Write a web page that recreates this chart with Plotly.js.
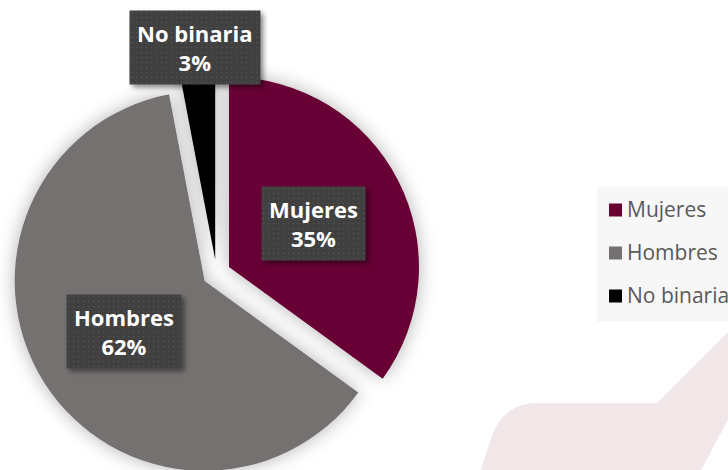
<!DOCTYPE html>
<html>
<head>
<meta charset="utf-8">
<script src="https://cdn.plot.ly/plotly-3.0.1.min.js"></script>
<style>
  html, body { margin: 0; padding: 0; background: #ffffff; overflow: hidden; width: 728px; height: 470px; }
  #chart { width: 728px; height: 480px; }
</style>
</head>
<body>
<div id="chart"></div>
<script>
// ---- data ----
const categories = ['Mujeres', 'Hombres', 'No binaria'];
const values = [35, 62, 3];
const colors = ['#680034', '#767171', '#000000'];

// ---- layout helpers ----
const W = 728, H = 480;
const pull = 0.074;
const domX = [12.5 / W, 420.5 / W];
const domY = [(H - 477.4) / H, (H - 69.4) / H];
const labelDist = [0.5, 0.5, 1.12];   // label distance from slice tip, in radii

const total = values.reduce((a, b) => a + b, 0);
const boxHalf = Math.min(W * (domX[1] - domX[0]), H * (domY[1] - domY[0])) / 2;
const r = boxHalf / (1 + pull);
const cx = W * (domX[0] + domX[1]) / 2;
const cy = H * (1 - (domY[0] + domY[1]) / 2);

function px(x) { return x / W; }
function py(y) { return 1 - y / H; }

const annotations = [];
let cum = 0;
categories.forEach((c, i) => {
  const a0 = cum / total * 2 * Math.PI;
  cum += values[i];
  const a1 = cum / total * 2 * Math.PI;
  const mid = (a0 + a1) / 2;
  const d = r * (pull + labelDist[i]);
  const lx = cx + d * Math.sin(mid);
  const ly = cy - d * Math.cos(mid);
  annotations.push({
    x: px(lx), y: py(ly), xref: 'paper', yref: 'paper',
    xanchor: 'center', yanchor: 'middle',
    text: c + '<br>' + Math.round(values[i] / total * 100) + '%',
    showarrow: false, align: 'center',
    bgcolor: '#404040', borderpad: 7,
    font: { family: 'Open Sans', size: 22, color: '#ffffff', weight: 'bold' },
    name: 'pielabel'
  });
});

// custom legend
const legX = 609, legSq = 13, legY0 = 210, legStep = 43;
const shapes = [];
// faint background decoration
shapes.push({
  type: 'path', xref: 'paper', yref: 'paper', layer: 'below',
  path: 'M ' + px(480) + ' ' + py(472) + ' L ' + px(493) + ' ' + py(433) +
        ' Q ' + px(506) + ' ' + py(403) + ' ' + px(537) + ' ' + py(403) +
        ' L ' + px(657) + ' ' + py(403) + ' L ' + px(730) + ' ' + py(330) +
        ' L ' + px(730) + ' ' + py(416) + ' L ' + px(700) + ' ' + py(472) + ' Z',
  fillcolor: '#f1e7e9', line: { width: 0 }
});
// legend background
shapes.push({
  type: 'rect', xref: 'paper', yref: 'paper', layer: 'below',
  x0: px(597), x1: px(730), y0: py(322), y1: py(187),
  fillcolor: '#f7f7f7', line: { width: 0 }
});
categories.forEach((c, i) => {
  const yc = legY0 + i * legStep;
  shapes.push({
    type: 'rect', xref: 'paper', yref: 'paper',
    x0: px(legX), x1: px(legX + legSq), y0: py(yc + legSq / 2), y1: py(yc - legSq / 2),
    fillcolor: colors[i], line: { width: 0 }
  });
  annotations.push({
    x: px(legX + legSq + 3), y: py(yc - 1), xref: 'paper', yref: 'paper',
    xanchor: 'left', yanchor: 'middle', showarrow: false,
    text: c, font: { family: 'Open Sans', size: 21, color: '#595959' }
  });
});

const data = [{
  type: 'pie',
  labels: categories,
  values: values,
  marker: { colors: colors, line: { width: 0 } },
  sort: false,
  direction: 'clockwise',
  rotation: 0,
  pull: [pull, pull, pull],
  textinfo: 'none',
  hoverinfo: 'label+percent',
  domain: { x: domX, y: domY },
  showlegend: false
}];

const layout = {
  width: W, height: H,
  margin: { l: 0, r: 0, t: 0, b: 0, pad: 0 },
  paper_bgcolor: '#ffffff',
  plot_bgcolor: '#ffffff',
  showlegend: false,
  shapes: shapes,
  annotations: annotations,
  font: { family: 'Open Sans' }
};

Plotly.newPlot('chart', data, layout, { displayModeBar: false, staticPlot: true }).then(gd => {
  const NS = 'http://www.w3.org/2000/svg';
  const svg = gd.querySelector('svg.main-svg');
  let defs = svg.querySelector('defs');
  if (!defs) { defs = document.createElementNS(NS, 'defs'); svg.insertBefore(defs, svg.firstChild); }
  defs.insertAdjacentHTML('beforeend',
    '<filter id="pieShadow" x="-20%" y="-20%" width="140%" height="140%">' +
      '<feDropShadow dx="0" dy="0" stdDeviation="9" flood-color="#000" flood-opacity="0.3"/>' +
    '</filter>' +
    '<filter id="boxShadow" x="-20%" y="-20%" width="140%" height="140%">' +
      '<feDropShadow dx="3" dy="3" stdDeviation="2.5" flood-color="#000" flood-opacity="0.45"/>' +
    '</filter>' +
    '<pattern id="dots" width="5" height="5" patternUnits="userSpaceOnUse">' +
      '<rect width="5" height="5" fill="#404040"/>' +
      '<rect x="2" y="2" width="1.2" height="1.2" fill="#555555"/>' +
    '</pattern>');
  gd.querySelectorAll('.pielayer .trace').forEach(g => g.setAttribute('filter', 'url(#pieShadow)'));
  gd.querySelectorAll('.annotation').forEach(a => {
    const bg = a.querySelector('rect.bg');
    if (bg && bg.style.fill && bg.style.fill !== 'rgba(0, 0, 0, 0)' && bg.style.fill !== 'transparent') {
      bg.style.fill = 'url(#dots)';
      bg.setAttribute('filter', 'url(#boxShadow)');
    }
  });
});
</script>
</body>
</html>
